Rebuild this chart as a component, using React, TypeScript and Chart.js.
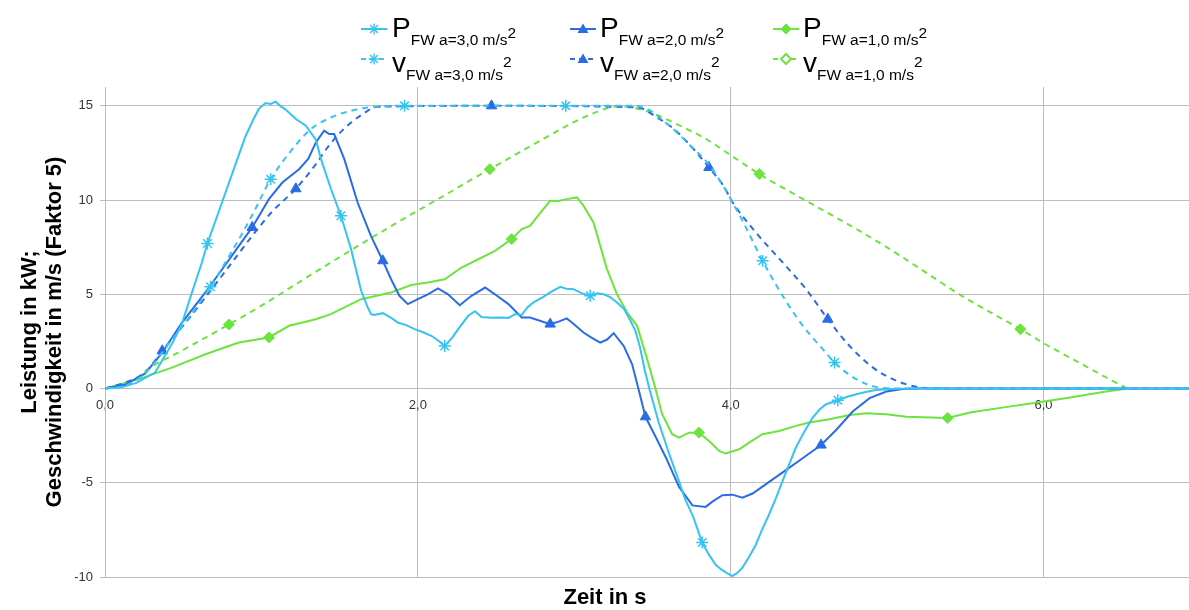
import React, { useEffect, useRef } from 'react';
import { Chart, registerables } from 'chart.js';

Chart.register(...registerables);

// ---------- data ----------
const xTickValues = [0, 2, 4, 6];
const yTickValues = [-10, -5, 0, 5, 10, 15];

const tP3 = [0, 0.1, 0.2, 0.32, 0.43, 0.49, 0.556, 0.62, 0.655, 0.749, 0.813, 0.899, 0.95, 0.984, 1.027, 1.06, 1.091, 1.12, 1.155, 1.22, 1.284, 1.348, 1.38, 1.444, 1.508, 1.573, 1.637, 1.68, 1.701, 1.72, 1.776, 1.83, 1.872, 1.93, 1.979, 2.03, 2.086, 2.13, 2.172, 2.22, 2.258, 2.322, 2.365, 2.407, 2.47, 2.536, 2.58, 2.622, 2.664, 2.7, 2.739, 2.8, 2.846, 2.91, 2.95, 2.995, 3.05, 3.102, 3.15, 3.188, 3.23, 3.273, 3.32, 3.359, 3.391, 3.42, 3.45, 3.48, 3.54, 3.6, 3.66, 3.71, 3.76, 3.818, 3.86, 3.904, 3.94, 3.968, 4.0, 4.01, 4.04, 4.075, 4.12, 4.16, 4.2, 4.246, 4.29, 4.332, 4.375, 4.417, 4.47, 4.524, 4.57, 4.61, 4.685, 4.74, 4.803, 4.87, 4.93, 5.03, 5.15, 6.93];
const pP3 = [0, 0.05, 0.3, 0.85, 2.4, 3.4, 5.1, 6.7, 7.7, 9.9, 11.4, 13.4, 14.3, 14.85, 15.15, 15.1, 15.22, 15.0, 14.8, 14.3, 13.95, 13.2, 12.2, 10.6, 9.17, 7.4, 5.2, 4.3, 3.95, 3.9, 4.0, 3.75, 3.5, 3.35, 3.15, 3.0, 2.8, 2.55, 2.26, 2.7, 3.15, 3.86, 4.1, 3.8, 3.75, 3.77, 3.75, 3.95, 3.9, 4.3, 4.57, 4.85, 5.1, 5.4, 5.3, 5.27, 5.05, 4.92, 5.05, 5.0, 4.85, 4.57, 4.2, 3.6, 3.06, 2.2, 1.0, 0.0, -1.8, -3.3, -4.7, -5.9, -6.8, -8.17, -8.8, -9.35, -9.6, -9.75, -9.9, -9.95, -9.8, -9.5, -8.9, -8.3, -7.5, -6.67, -5.8, -4.9, -4.0, -3.13, -2.3, -1.54, -1.1, -0.83, -0.62, -0.45, -0.3, -0.17, -0.08, -0.02, 0, 0];
const mP3 = [0.655, 1.508, 2.172, 3.102, 3.818, 4.685];

const tV3 = [0, 0.1, 0.2, 0.3, 0.4, 0.513, 0.674, 0.813, 0.941, 1.059, 1.198, 1.316, 1.444, 1.573, 1.744, 1.915, 2.946, 3.38, 3.487, 3.57, 3.656, 3.742, 3.849, 3.956, 4.007, 4.076, 4.204, 4.332, 4.461, 4.589, 4.664, 4.803, 4.953, 5.12, 6.93];
const vV3 = [0, 0.1, 0.45, 1.2, 2.3, 3.5, 5.4, 7.3, 9.2, 11.1, 12.7, 13.77, 14.38, 14.74, 14.97, 15, 15, 15, 14.74, 14.2, 13.59, 12.88, 12.0, 10.7, 9.95, 8.9, 6.78, 4.92, 3.33, 2.09, 1.38, 0.5, 0.05, 0, 0];
const mV3 = [0.674, 1.059, 1.915, 2.946, 4.204, 4.664];

const tP2 = [0, 0.128, 0.257, 0.366, 0.492, 0.642, 0.749, 0.856, 0.941, 1.048, 1.134, 1.19, 1.241, 1.3, 1.348, 1.401, 1.433, 1.465, 1.53, 1.615, 1.7, 1.776, 1.829, 1.882, 1.936, 2.0, 2.064, 2.129, 2.193, 2.268, 2.343, 2.43, 2.493, 2.579, 2.664, 2.717, 2.78, 2.846, 2.9, 2.952, 3.0, 3.059, 3.11, 3.166, 3.21, 3.252, 3.316, 3.37, 3.413, 3.455, 3.52, 3.584, 3.67, 3.755, 3.84, 3.883, 3.947, 4.011, 4.075, 4.14, 4.246, 4.353, 4.46, 4.578, 4.674, 4.78, 4.888, 4.995, 5.1, 5.2, 6.93];
const pP2 = [0, 0.2, 0.8, 1.9, 3.5, 5.1, 6.33, 7.57, 8.55, 10.05, 10.93, 11.3, 11.64, 12.2, 13.06, 13.68, 13.5, 13.5, 12.17, 9.87, 8.1, 6.78, 5.8, 4.92, 4.48, 4.74, 5.0, 5.31, 5.0, 4.42, 4.92, 5.36, 5.0, 4.48, 3.77, 3.77, 3.6, 3.42, 3.55, 3.72, 3.4, 2.97, 2.7, 2.44, 2.6, 2.94, 2.26, 1.29, -0.1, -1.5, -2.56, -3.63, -5.22, -6.2, -6.28, -6.0, -5.66, -5.63, -5.79, -5.57, -4.95, -4.33, -3.7, -3.0, -2.2, -1.22, -0.51, -0.16, -0.02, 0, 0];
const mP2 = [0.941, 1.776, 2.846, 3.455, 4.578];

const tV2 = [0, 0.128, 0.257, 0.366, 0.535, 0.685, 0.813, 0.941, 1.07, 1.22, 1.348, 1.423, 1.53, 1.637, 1.744, 2.471, 3.402, 3.53, 3.637, 3.744, 3.861, 3.958, 4.007, 4.161, 4.332, 4.482, 4.621, 4.76, 4.91, 5.06, 5.188, 5.3, 6.93];
const vV2 = [0, 0.32, 0.85, 2.0, 3.7, 5.3, 6.7, 8.1, 9.4, 10.6, 11.9, 12.8, 13.8, 14.5, 14.95, 15, 14.92, 14.38, 13.77, 12.88, 11.73, 10.7, 9.95, 8.28, 6.69, 5.27, 3.68, 2.26, 1.11, 0.41, 0.09, 0, 0];
const mV2 = [0.366, 1.22, 2.471, 3.861, 4.621];

const tP1 = [0, 0.214, 0.428, 0.642, 0.856, 1.048, 1.177, 1.348, 1.444, 1.637, 1.829, 1.957, 2.064, 2.172, 2.279, 2.386, 2.493, 2.6, 2.664, 2.717, 2.78, 2.846, 2.9, 2.952, 3.017, 3.059, 3.123, 3.209, 3.273, 3.338, 3.402, 3.466, 3.52, 3.562, 3.626, 3.669, 3.733, 3.797, 3.862, 3.926, 3.968, 4.054, 4.118, 4.203, 4.31, 4.417, 4.503, 4.631, 4.76, 4.867, 4.995, 5.124, 5.387, 5.53, 5.747, 5.96, 6.17, 6.39, 6.536];
const pP1 = [0, 0.5, 1.11, 1.82, 2.44, 2.71, 3.33, 3.68, 3.95, 4.74, 5.1, 5.49, 5.63, 5.8, 6.42, 6.86, 7.31, 7.93, 8.46, 8.63, 9.3, 9.96, 9.95, 10.05, 10.14, 9.7, 8.81, 6.34, 5.01, 4.03, 3.33, 1.56, -0.03, -1.36, -2.42, -2.6, -2.34, -2.34, -2.78, -3.31, -3.45, -3.22, -2.87, -2.42, -2.25, -1.98, -1.8, -1.63, -1.4, -1.31, -1.36, -1.5, -1.56, -1.27, -1.0, -0.74, -0.48, -0.17, 0];
const mP1 = [1.048, 2.6, 3.797, 5.387];

const tV1 = [0, 0.1, 0.2, 0.278, 0.5, 0.792, 1.0, 1.348, 1.744, 2.172, 2.46, 2.664, 2.846, 3.0, 3.12, 3.2, 3.273, 3.38, 3.487, 3.6, 3.7, 3.83, 3.979, 4.183, 4.483, 4.803, 5.017, 5.295, 5.477, 5.852, 6.013, 6.226, 6.44, 6.536];
const vV1 = [0, 0.15, 0.55, 1.05, 2.05, 3.4, 4.4, 6.2, 8.2, 10.26, 11.64, 12.6, 13.45, 14.15, 14.6, 14.85, 14.97, 14.9, 14.65, 14.25, 13.85, 13.3, 12.5, 11.38, 9.96, 8.46, 7.4, 5.9, 4.92, 3.15, 2.35, 1.38, 0.41, 0];
const mV1 = [0.792, 2.46, 4.183, 5.852];

const X_TITLE = 'Zeit in s';
const Y_TITLE = ['Leistung in kW;', 'Geschwindigkeit in m/s (Faktor 5)'];

// ---------- styles ----------
const C3 = '#35C3F3';
const C2 = '#2A6CE6';
const C1 = '#6CE43E';
const GRID = '#bdbdbd';
const FONT = '"Liberation Sans", Arial, sans-serif';

type Series = {
  label: string;
  t: number[];
  v: number[];
  m: number[];
  color: string;
  dashed: boolean;
  style: string;
  radius: number;
};

const series: Series[] = [
  { label: 'P a=3', t: tP3, v: pP3, m: mP3, color: C3, dashed: false, style: 'star', radius: 6 },
  { label: 'v a=3', t: tV3, v: vV3, m: mV3, color: C3, dashed: true, style: 'star', radius: 6 },
  { label: 'P a=2', t: tP2, v: pP2, m: mP2, color: C2, dashed: false, style: 'triangle', radius: 6 },
  { label: 'v a=2', t: tV2, v: vV2, m: mV2, color: C2, dashed: true, style: 'triangle', radius: 6 },
  { label: 'P a=1', t: tP1, v: pP1, m: mP1, color: C1, dashed: false, style: 'rectRot', radius: 5.5 },
  { label: 'v a=1', t: tV1, v: vV1, m: mV1, color: C1, dashed: true, style: 'rectRot', radius: 5.5 },
];

const legendItems = [
  { col: 0, row: 0, letter: 'P', sub: 'FW a=3,0 m/s', color: C3, dashed: false, marker: 'star' },
  { col: 0, row: 1, letter: 'v', sub: 'FW a=3,0 m/s', color: C3, dashed: true, marker: 'star' },
  { col: 1, row: 0, letter: 'P', sub: 'FW a=2,0 m/s', color: C2, dashed: false, marker: 'triangle' },
  { col: 1, row: 1, letter: 'v', sub: 'FW a=2,0 m/s', color: C2, dashed: true, marker: 'triangle' },
  { col: 2, row: 0, letter: 'P', sub: 'FW a=1,0 m/s', color: C1, dashed: false, marker: 'diamond' },
  { col: 2, row: 1, letter: 'v', sub: 'FW a=1,0 m/s', color: C1, dashed: true, marker: 'diamondOpen' },
];
const colTextLeft = [392, 600, 803];
const colMarkerCenter = [374, 583, 786];
const rowTextTop = [13.5, 49];
const rowMarkerY = [28.5, 59];
const rowSupOffset = [1, -5];

function LegendMarker({ color, dashed, marker }: { color: string; dashed: boolean; marker: string }) {
  const cx = 13, cy = 7;
  let sym: React.ReactNode = null;
  if (marker === 'star') {
    const r = 5.5, d = r * 0.7071;
    sym = (
      <g stroke={color} strokeWidth={1.4}>
        <line x1={cx - r} y1={cy} x2={cx + r} y2={cy} />
        <line x1={cx} y1={cy - r} x2={cx} y2={cy + r} />
        <line x1={cx - d} y1={cy - d} x2={cx + d} y2={cy + d} />
        <line x1={cx - d} y1={cy + d} x2={cx + d} y2={cy - d} />
      </g>
    );
  } else if (marker === 'triangle') {
    sym = <polygon points={`${cx},${cy - 5.5} ${cx + 5.5},${cy + 4} ${cx - 5.5},${cy + 4}`} fill={color} />;
  } else {
    const open = marker === 'diamondOpen';
    sym = (
      <polygon
        points={`${cx},${cy - 5} ${cx + 5},${cy} ${cx},${cy + 5} ${cx - 5},${cy}`}
        fill={open ? '#fff' : color}
        stroke={color}
        strokeWidth={open ? 2 : 1}
      />
    );
  }
  return (
    <svg width={26} height={14} style={{ display: 'block' }}>
      <line x1={0} y1={cy} x2={26} y2={cy} stroke={color} strokeWidth={2} strokeDasharray={dashed ? '5 4' : undefined} />
      {sym}
    </svg>
  );
}

function Legend() {
  return (
    <>
      {legendItems.map((it, i) => (
        <React.Fragment key={i}>
          <div style={{ position: 'absolute', left: colMarkerCenter[it.col] - 13, top: rowMarkerY[it.row] - 7 }}>
            <LegendMarker color={it.color} dashed={it.dashed} marker={it.marker} />
          </div>
          <div
            style={{
              position: 'absolute',
              left: colTextLeft[it.col],
              top: rowTextTop[it.row],
              fontFamily: FONT,
              fontSize: 28,
              lineHeight: 1,
              color: '#000',
              whiteSpace: 'nowrap',
            }}
          >
            <span>{it.letter}</span>
            <span style={{ fontSize: 15.5, position: 'relative', top: 8 }}>{it.sub}</span>
            <span style={{ fontSize: 15.5, position: 'relative', top: rowSupOffset[it.row] }}>2</span>
          </div>
        </React.Fragment>
      ))}
    </>
  );
}

const xTitlePlugin = {
  id: 'xTitlePlugin',
  afterDraw(chart: any) {
    const { ctx } = chart;
    ctx.save();
    ctx.font = `bold 22px ${FONT}`;
    ctx.fillStyle = '#000';
    ctx.textAlign = 'center';
    ctx.textBaseline = 'alphabetic';
    ctx.fillText(X_TITLE, 605, 604);
    ctx.restore();
  },
};

export default function App() {
  const canvasRef = useRef<HTMLCanvasElement | null>(null);

  useEffect(() => {
    if (!canvasRef.current) return;
    const datasets = series.map((s) => ({
      label: s.label,
      data: s.t.map((x, i) => ({ x, y: s.v[i] })),
      borderColor: s.color,
      backgroundColor: s.color,
      borderWidth: 2,
      borderDash: s.dashed ? [6, 5] : [],
      tension: 0,
      cubicInterpolationMode: s.dashed ? 'monotone' : 'default',
      pointStyle: s.style,
      pointBackgroundColor: s.color,
      pointBorderColor: s.color,
      pointBorderWidth: s.style === 'star' ? 1.5 : 1,
      pointRadius: (ctx: any) => {
        const idx = ctx.dataIndex;
        if (idx === undefined) return 0;
        return s.m.includes(s.t[idx]) ? s.radius : 0;
      },
      pointHoverRadius: 0,
      fill: false,
    }));

    const chart = new Chart(canvasRef.current, {
      type: 'line',
      data: { datasets: datasets as any },
      plugins: [xTitlePlugin],
      options: {
        responsive: false,
        animation: false,
        events: [],
        layout: { padding: { top: 87, bottom: 33, left: 0, right: 0 } },
        plugins: {
          legend: { display: false },
          tooltip: { enabled: false },
        },
        scales: {
          x: {
            type: 'linear',
            min: 0,
            max: 6.93,
            position: { y: 0 } as any,
            afterBuildTicks: (s: any) => {
              s.ticks = xTickValues.map((v) => ({ value: v }));
            },
            ticks: {
              padding: 9,
              color: '#333',
              font: { family: FONT, size: 13 },
              callback: (v: any) => Number(v).toFixed(1).replace('.', ','),
            },
            grid: { color: GRID, lineWidth: 1, drawTicks: false },
            border: { color: GRID, width: 1 },
          },
          y: {
            type: 'linear',
            min: -10,
            max: 16,
            afterBuildTicks: (s: any) => {
              s.ticks = yTickValues.map((v) => ({ value: v }));
            },
            afterFit: (s: any) => {
              s.width = 105;
            },
            ticks: {
              padding: 7,
              color: '#333',
              font: { family: FONT, size: 13 },
            },
            grid: { color: GRID, lineWidth: 1, tickLength: 5 },
            border: { color: GRID, width: 1 },
            title: {
              display: true,
              text: Y_TITLE,
              color: '#000',
              font: { family: FONT, size: 22, weight: 'bold', lineHeight: 1.12 },
              padding: { top: 18, bottom: 0 },
            },
          },
        },
      },
    });
    return () => chart.destroy();
  }, []);

  return (
    <div style={{ position: 'absolute', left: 0, top: 0, width: 1189, height: 610, background: '#fff', overflow: 'hidden' }}>
      <canvas ref={canvasRef} width={1189} height={610} style={{ display: 'block', position: 'absolute', left: 0, top: 0 }} />
      <Legend />
    </div>
  );
}
